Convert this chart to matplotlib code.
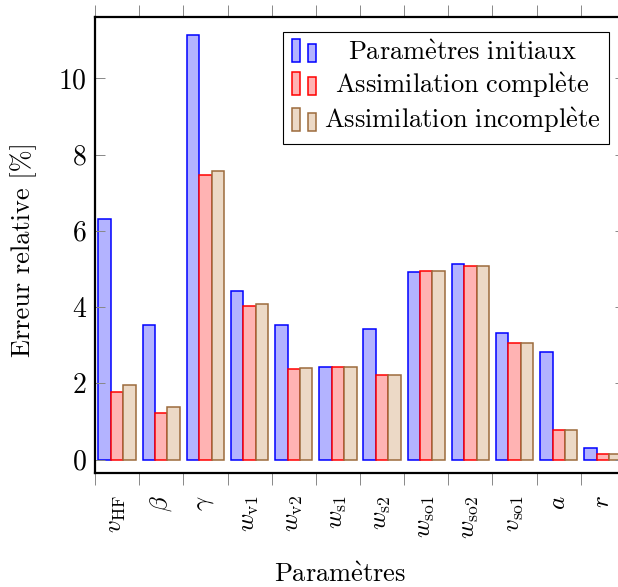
import numpy as np
import matplotlib
matplotlib.use("Agg")
import matplotlib.pyplot as plt
from matplotlib.patches import Rectangle
from matplotlib.legend_handler import HandlerBase

params = [r"$v_{\mathrm{HF}}$", r"$\beta$", r"$\gamma$", r"$w_{\mathrm{v1}}$",
          r"$w_{\mathrm{v2}}$", r"$w_{\mathrm{s1}}$", r"$w_{\mathrm{s2}}$",
          r"$w_{\mathrm{so1}}$", r"$w_{\mathrm{so2}}$", r"$v_{\mathrm{so1}}$",
          r"$a$", r"$r$"]
initial = [6.31, 3.52, 11.13, 4.42, 3.52, 2.42, 3.42, 4.93, 5.13, 3.32, 2.82, 0.31]
complete = [1.77, 1.22, 7.46, 4.02, 2.37, 2.44, 2.23, 4.95, 5.09, 3.05, 0.78, 0.15]
incomplete = [1.95, 1.38, 7.57, 4.07, 2.40, 2.42, 2.23, 4.95, 5.09, 3.05, 0.78, 0.15]
series_names = [r"$\mathrm{Param\grave{e}tres\ initiaux}$",
                r"$\mathrm{Assimilation\ compl\grave{e}te}$",
                r"$\mathrm{Assimilation\ incompl\grave{e}te}$"]

plt.rcParams['font.family'] = ['cmr10', 'DejaVu Serif']
plt.rcParams['mathtext.fontset'] = 'cm'
plt.rcParams['axes.formatter.use_mathtext'] = True
plt.rcParams['axes.unicode_minus'] = False

fills = ['#b3b3ff', '#ffb3b3', '#ecd9c6']
edges = ['#0000ff', '#ff0000', '#9c6b3c']


class TwoBars(HandlerBase):
    # pgfplots ybar legend: two little bars of different heights
    def create_artists(self, legend, orig, xdescent, ydescent, width, height, fontsize, trans):
        fc = orig.get_facecolor()
        ec = orig.get_edgecolor()
        h = height * 1.25
        y0 = -ydescent - height * 0.12
        r1 = Rectangle((-xdescent, y0), width * 0.34, h, fc=fc, ec=ec, lw=1.1, transform=trans)
        r2 = Rectangle((-xdescent + width * 0.64, y0), width * 0.36, h * 0.78, fc=fc, ec=ec, lw=1.1, transform=trans)
        return [r1, r2]


fig = plt.figure(figsize=(6.18, 5.87), dpi=100)
ax = fig.add_axes([95 / 618, 1 - 473 / 587, 530 / 618, 456 / 587])

x = np.arange(len(params))
w = 0.283
handles = []
for i, vals in enumerate([initial, complete, incomplete]):
    b = ax.bar(x + (i - 1) * w, vals, w, color=fills[i], edgecolor=edges[i], linewidth=1.1)
    handles.append(b.patches[0])

ax.set_xlim(-0.5, 11.5)
ax.set_ylim(-0.354, 11.61)

ax.set_xticks(x)
ax.set_xticklabels(params, rotation=90, va='top', ha='center', fontsize=18)
ax.set_xticks(np.arange(-0.5, 12, 1), minor=True)
ax.tick_params(axis='x', which='major', length=0, pad=16)
ax.tick_params(axis='x', which='minor', direction='out', length=8.5, width=0.7,
               color='#888888', top=True, bottom=True)

ax.set_yticks([0, 2, 4, 6, 8, 10])
ax.tick_params(axis='y', direction='in', length=7, width=0.7, color='#888888',
               left=True, right=True, labelsize=20, pad=6)

for s in ['left', 'bottom', 'top']:
    ax.spines[s].set_linewidth(1.6)
ax.spines['right'].set_linewidth(0.8)

ax.set_ylabel("Erreur relative [%]", fontsize=19)
ax.yaxis.set_label_coords(-(95 - 37) / 530, 0.49)
ax.set_xlabel(r"$\mathrm{Param\grave{e}tres}$", fontsize=19, va='top')
ax.xaxis.set_label_coords((340 - 95) / 530, -(563 - 473) / 456)

leg = ax.legend(handles, series_names, handler_map={h: TwoBars() for h in handles},
                loc='upper right', bbox_to_anchor=(609 / 618, 1 - 32 / 587),
                bbox_transform=fig.transFigure, borderaxespad=0, fontsize=19,
                fancybox=False, framealpha=1, edgecolor='black', handlelength=0.92,
                handletextpad=0.28, labelspacing=0.22, borderpad=0.33)
leg.get_frame().set_linewidth(0.8)

# centre the legend texts in their column
fig.canvas.draw()
r = fig.canvas.get_renderer()
widths = [t.get_window_extent(r).width for t in leg.get_texts()]
for t, wd in zip(leg.get_texts(), widths):
    t.set_x((max(widths) - wd) / 2)

fig.savefig("out.png", dpi=100)
